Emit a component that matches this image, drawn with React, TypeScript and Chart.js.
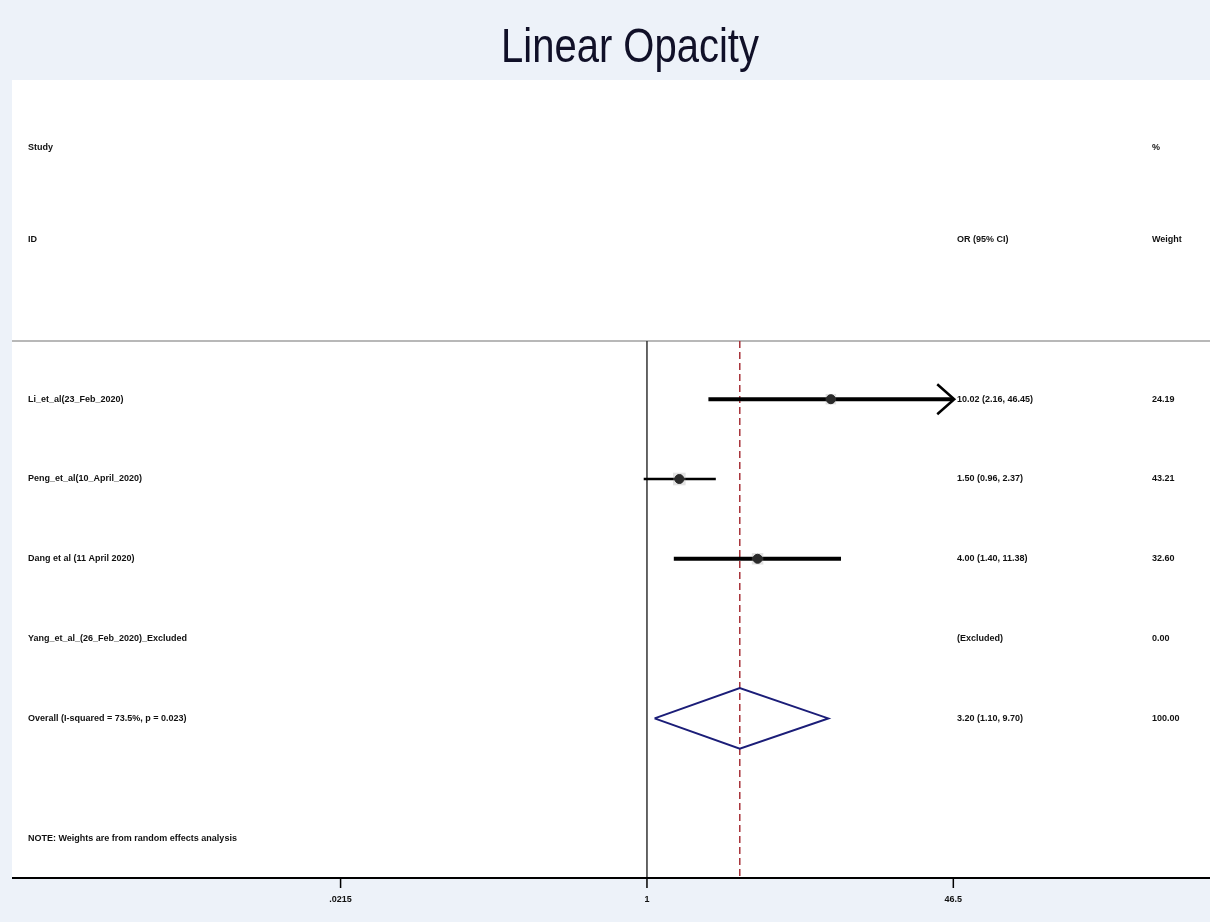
import React, { useEffect, useRef } from "react";
import { Chart, registerables } from "chart.js";

Chart.register(...registerables);

const TITLE = "Linear Opacity";
const STUDIES = [
  "Li_et_al(23_Feb_2020)",
  "Peng_et_al(10_April_2020)",
  "Dang et al (11 April 2020)",
  "Yang_et_al_(26_Feb_2020)_Excluded",
];
const OR_EST: (number | null)[] = [10.02, 1.5, 4.0, null];
const CI_LO: (number | null)[] = [2.16, 0.96, 1.4, null];
const CI_HI: (number | null)[] = [46.45, 2.37, 11.38, null];
const OR_TEXT = ["10.02 (2.16, 46.45)", "1.50 (0.96, 2.37)", "4.00 (1.40, 11.38)", "(Excluded)"];
const WEIGHTS = [24.19, 43.21, 32.6, 0.0];
const WEIGHT_TEXT = ["24.19", "43.21", "32.60", "0.00"];
const OVERALL_LABEL = "Overall (I-squared = 73.5%, p = 0.023)";
const OVERALL_EST = 3.2;
const OVERALL_LO = 1.1;
const OVERALL_HI = 9.7;
const OVERALL_TEXT = "3.20 (1.10, 9.70)";
const OVERALL_WEIGHT = "100.00";
const NOTE = "NOTE: Weights are from random effects analysis";
const HEADER_TOP = ["Study", "%"];
const HEADER_BOTTOM = ["ID", "OR (95% CI)", "Weight"];
const X_TICKS = [0.0215, 1, 46.5];
const X_TICK_LABELS = [".0215", "1", "46.5"];

export default function App() {
  const ref = useRef<HTMLCanvasElement | null>(null);

  useEffect(() => {
    const canvas = ref.current;
    if (!canvas) return;

    const rowY = (i: number) => i + 1;
    const overallY = STUDIES.length + 1;
    const noteY = STUDIES.length + 2.5;
    const sepY = 0.27;
    const diamondHalf = 0.38;

    const datasets: any[] = [];
    // weight boxes
    datasets.push({
      data: STUDIES.map((_, i) => (OR_EST[i] == null ? null : { x: OR_EST[i], y: rowY(i) })).filter(Boolean),
      pointStyle: "rect",
      pointRadius: STUDIES.map((_, i) => 3 + Math.sqrt(WEIGHTS[i]) * 0.9).filter((_, i) => OR_EST[i] != null),
      backgroundColor: "rgba(150,150,150,0.28)",
      borderWidth: 0,
      showLine: false,
    });
    // CI lines
    STUDIES.forEach((_, i) => {
      if (CI_LO[i] == null || CI_HI[i] == null) return;
      datasets.push({
        data: [
          { x: CI_LO[i], y: rowY(i) },
          { x: CI_HI[i], y: rowY(i) },
        ],
        showLine: true,
        borderColor: "#000",
        borderWidth: i === 1 ? 2.5 : 4,
        pointRadius: 0,
      });
    });
    // point estimates
    datasets.push({
      data: STUDIES.map((_, i) => (OR_EST[i] == null ? null : { x: OR_EST[i], y: rowY(i) })).filter(Boolean),
      pointStyle: "circle",
      pointRadius: 4.5,
      backgroundColor: "#000",
      borderColor: "#000",
      showLine: false,
    });
    // overall diamond
    datasets.push({
      data: [
        { x: OVERALL_LO, y: overallY },
        { x: OVERALL_EST, y: overallY - diamondHalf },
        { x: OVERALL_HI, y: overallY },
        { x: OVERALL_EST, y: overallY + diamondHalf },
        { x: OVERALL_LO, y: overallY },
      ],
      showLine: true,
      borderColor: "#1b1d78",
      borderWidth: 2,
      pointRadius: 0,
      fill: false,
    });

    const decor = {
      id: "decor",
      beforeDraw(chart: any) {
        const { ctx, chartArea: ca } = chart;
        ctx.save();
        ctx.fillStyle = "#edf2f9";
        ctx.fillRect(0, 0, chart.width, chart.height);
        ctx.fillStyle = "#ffffff";
        ctx.fillRect(ca.left, ca.top, ca.right - ca.left, ca.bottom - ca.top);
        // title
        ctx.fillStyle = "#101028";
        ctx.font = "40px 'Liberation Sans', Arial, sans-serif";
        ctx.textAlign = "center";
        ctx.textBaseline = "alphabetic";
        ctx.translate(630, 62);
        ctx.scale(1, 1.2);
        ctx.fillText(TITLE, 0, 0);
        ctx.restore();
      },
      beforeDatasetsDraw(chart: any) {
        const { ctx, chartArea: ca, scales } = chart;
        const xs = scales.x;
        const ys = scales.y;
        const yl = ys.getPixelForValue(sepY);
        ctx.save();
        ctx.strokeStyle = "#b8b8b8";
        ctx.lineWidth = 2;
        ctx.beginPath();
        ctx.moveTo(ca.left, yl);
        ctx.lineTo(ca.right, yl);
        ctx.stroke();
        // null line
        const x1 = xs.getPixelForValue(1);
        ctx.strokeStyle = "#333";
        ctx.lineWidth = 1.5;
        ctx.beginPath();
        ctx.moveTo(x1, yl);
        ctx.lineTo(x1, ca.bottom);
        ctx.stroke();
        // overall dashed line
        const xo = xs.getPixelForValue(OVERALL_EST);
        ctx.strokeStyle = "#a8323a";
        ctx.lineWidth = 1.5;
        ctx.setLineDash([7, 4]);
        ctx.beginPath();
        ctx.moveTo(xo, yl);
        ctx.lineTo(xo, ca.bottom);
        ctx.stroke();
        ctx.restore();
      },
      afterDraw(chart: any) {
        const { ctx, chartArea: ca, scales } = chart;
        const xs = scales.x;
        const ys = scales.y;
        ctx.save();
        // arrow for truncated CI (Li)
        const ax = xs.getPixelForValue(CI_HI[0] as number);
        const ay = ys.getPixelForValue(rowY(0));
        ctx.strokeStyle = "#000";
        ctx.lineWidth = 2.5;
        ctx.beginPath();
        ctx.moveTo(ax - 16, ay - 15);
        ctx.lineTo(ax + 1, ay);
        ctx.lineTo(ax - 16, ay + 15);
        ctx.stroke();

        // text columns
        const labX = ca.left + 16;
        const orX = 957;
        const wX = 1152;
        ctx.fillStyle = "#111";
        ctx.font = "bold 9px 'Liberation Sans', Arial, sans-serif";
        ctx.textBaseline = "middle";
        ctx.textAlign = "left";
        const hy1 = ys.getPixelForValue(-2.15);
        const hy2 = ys.getPixelForValue(-1);
        ctx.fillText(HEADER_TOP[0], labX, hy1);
        ctx.fillText(HEADER_TOP[1], wX, hy1);
        ctx.fillText(HEADER_BOTTOM[0], labX, hy2);
        ctx.fillText(HEADER_BOTTOM[1], orX, hy2);
        ctx.fillText(HEADER_BOTTOM[2], wX, hy2);
        STUDIES.forEach((s, i) => {
          const y = ys.getPixelForValue(rowY(i));
          ctx.fillText(s, labX, y);
          ctx.fillText(OR_TEXT[i], orX, y);
          ctx.fillText(WEIGHT_TEXT[i], wX, y);
        });
        const oy = ys.getPixelForValue(overallY);
        ctx.fillText(OVERALL_LABEL, labX, oy);
        ctx.fillText(OVERALL_TEXT, orX, oy);
        ctx.fillText(OVERALL_WEIGHT, wX, oy);
        ctx.fillText(NOTE, labX, ys.getPixelForValue(noteY));

        // x axis
        ctx.strokeStyle = "#000";
        ctx.lineWidth = 2;
        ctx.beginPath();
        ctx.moveTo(ca.left, ca.bottom);
        ctx.lineTo(ca.right, ca.bottom);
        ctx.stroke();
        ctx.textAlign = "center";
        ctx.textBaseline = "middle";
        X_TICKS.forEach((t, i) => {
          const x = xs.getPixelForValue(t);
          ctx.lineWidth = 1.5;
          ctx.beginPath();
          ctx.moveTo(x, ca.bottom);
          ctx.lineTo(x, ca.bottom + 10);
          ctx.stroke();
          ctx.fillText(X_TICK_LABELS[i], x, ca.bottom + 22);
        });
        ctx.restore();
      },
    };

    const chart = new Chart(canvas, {
      type: "scatter",
      data: { datasets },
      options: {
        animation: false,
        responsive: false,
        devicePixelRatio: 1,
        layout: { autoPadding: false, padding: { left: 12, top: 80, right: 0, bottom: 44 } },
        plugins: { legend: { display: false }, tooltip: { enabled: false }, title: { display: false } },
        scales: {
          x: { type: "logarithmic", min: 0.00035, max: 1160, display: false },
          y: { type: "linear", min: -3, max: 7, reverse: true, display: false },
        },
      } as any,
      plugins: [decor],
    });
    return () => chart.destroy();
  }, []);

  return (
    <div style={{ position: "absolute", left: 0, top: 0, width: 1210, height: 922 }}>
      <canvas ref={ref} width={1210} height={922} style={{ display: "block" }} />
    </div>
  );
}
